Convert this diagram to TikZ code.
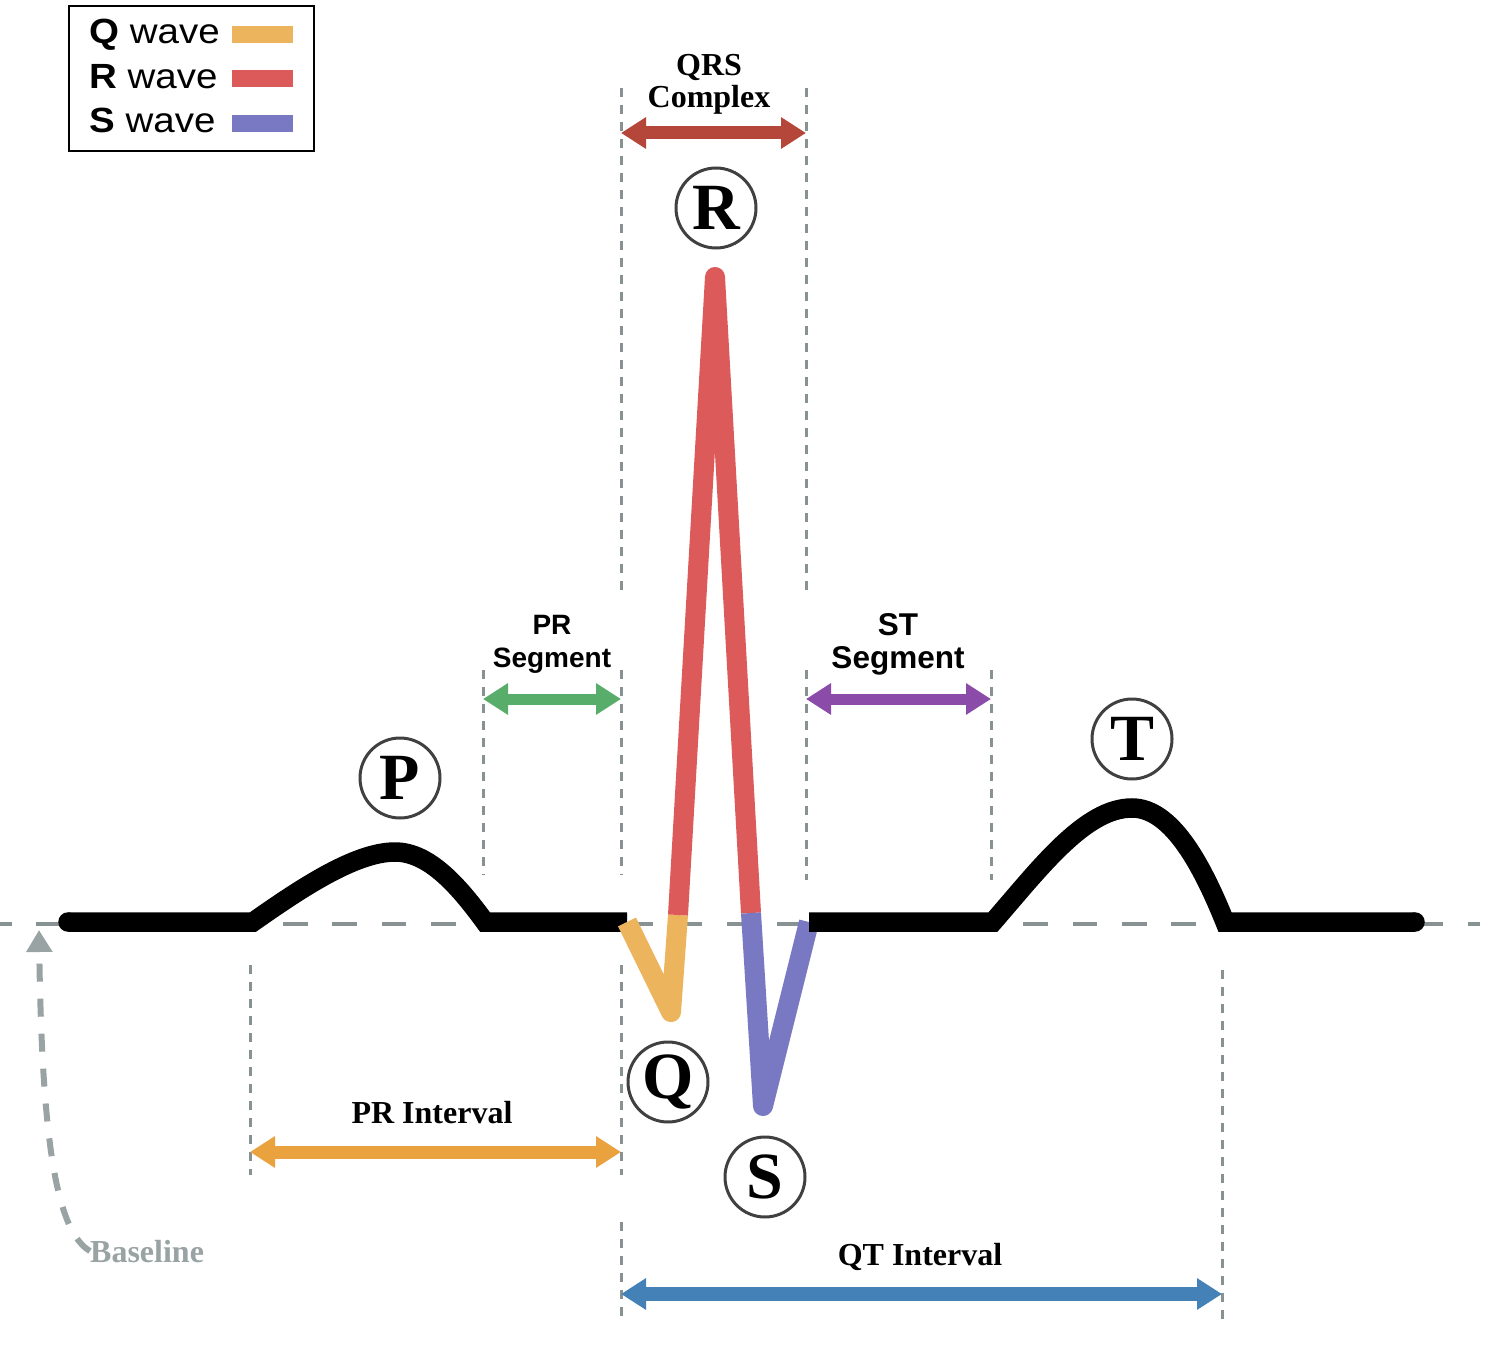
\documentclass[tikz,border=0pt]{standalone}
\usepackage{fontspec}
\setmainfont{Liberation Serif}
\newfontfamily\sansf{Liberation Sans}
\newfontfamily\legf[FakeStretch=1.1]{Liberation Sans}
\usetikzlibrary{arrows.meta}
\definecolor{qcol}{HTML}{EDB45E}
\definecolor{rcol}{HTML}{DD5A5A}
\definecolor{scol}{HTML}{7879C2}
\definecolor{qrscol}{HTML}{B4473A}
\definecolor{prsegcol}{HTML}{57AD69}
\definecolor{stsegcol}{HTML}{8A4BA9}
\definecolor{printcol}{HTML}{E9A23E}
\definecolor{qtcol}{HTML}{4481B6}
\definecolor{dashgray}{HTML}{899292}
\definecolor{basegray}{HTML}{99A3A3}
\definecolor{circcol}{HTML}{404040}
\begin{document}
\begin{tikzpicture}[x=1pt,y=-1pt,
  trace/.style={line width=19.5pt, black},
  wave/.style={line width=20pt, line join=round},
  guide/.style={draw=dashgray, line width=3pt, dash pattern=on 9pt off 8pt},
  dbl/.style={line width=13pt, {Triangle[length=25pt,width=30pt]}-{Triangle[length=25pt,width=30pt]}},
  lettercirc/.style={circle, draw=circcol, line width=3pt, minimum size=80pt, inner sep=0pt, font=\fontsize{66}{66}\selectfont\bfseries},
  serlbl/.style={font=\fontsize{32}{32}\selectfont\bfseries, inner sep=0pt},
  sanslbl/.style={font=\sansf\fontsize{28}{33}\selectfont\bfseries, inner sep=0pt, align=center},
  legtext/.style={font=\legf\fontsize{35}{35}\selectfont, inner sep=0pt, anchor=base west},
  swatch/.style={minimum width=61pt, minimum height=17pt, inner sep=0pt}
]
\useasboundingbox (0,0) rectangle (1500,1356);
\fill[white] (0,0) rectangle (1500,1356);

% baseline
\coordinate (bl0) at (-13,924);
\coordinate (bl1) at (1480,924);
\draw[draw=dashgray, line width=4pt, dash pattern=on 24.5pt off 24.85pt] (bl0) -- (bl1);

% guides
\foreach \n/\x/\ya/\yb in {a/621/88/595, b/806/88/595, c/483/670/875, d/621/670/875, e/806/670/880, f/991/670/880, g/250/965/1175, h/621/965/1175, i/621/1222/1322, j/1222/970/1322}{
  \coordinate (g\n1) at (\x,\ya);
  \coordinate (g\n2) at (\x,\yb);
  \draw[guide] (g\n1) -- (g\n2);
}

% ECG trace
\coordinate (t0) at (68,922);
\coordinate (p0) at (253,922);
\coordinate (ppk) at (395,852);
\coordinate (p1) at (485,922);
\coordinate (q0) at (627,922);
\coordinate (qb) at (671,1012);
\coordinate (r0) at (678,915);
\coordinate (rpk) at (715,277);
\coordinate (s0) at (751,913);
\coordinate (sb) at (763,1106);
\coordinate (s1) at (809,922);
\coordinate (t1) at (993,922);
\coordinate (tpk) at (1132,808);
\coordinate (t2) at (1225,922);
\coordinate (tend) at (1415,922);

\draw[trace] (t0) -- (p0) .. controls (300,889) and (355,852) .. (ppk) .. controls (430,852) and (460,888) .. (p1) -- (q0);
\fill (t0) circle (9.75pt);
\draw[wave, qcol] (q0) -- (qb) -- (r0);
\draw[wave, rcol] (r0) -- (rpk) -- (s0);
\draw[wave, scol] (s0) -- (sb) -- (s1);
\draw[trace] (s1) -- (t1) .. controls (1040,868) and (1085,808) .. (tpk) .. controls (1170,808) and (1200,860) .. (t2) -- (tend);
\fill (tend) circle (9.75pt);

% letter circles
\node[lettercirc] (R) at (716,208) {R};
\node[lettercirc] (P) at (400,778) {P};
\node[lettercirc] (T) at (1132,739) {T};
\node[lettercirc] (Q) at (668,1082) {Q};
\node[lettercirc] (S) at (765,1177) {S};

% interval arrows
\coordinate (qrsL) at (621,133); \coordinate (qrsR) at (806,133);
\draw[dbl, qrscol] (qrsL) -- (qrsR);
\coordinate (prsL) at (483,699); \coordinate (prsR) at (621,699);
\draw[dbl, prsegcol, line width=11pt] (prsL) -- (prsR);
\coordinate (stsL) at (806,699); \coordinate (stsR) at (991,699);
\draw[dbl, stsegcol, line width=11pt] (stsL) -- (stsR);
\coordinate (priL) at (250,1152); \coordinate (priR) at (621,1152);
\draw[dbl, printcol] (priL) -- (priR);
\coordinate (qtL) at (621,1294); \coordinate (qtR) at (1222,1294);
\draw[dbl, qtcol, line width=14pt] (qtL) -- (qtR);

% labels
\node[serlbl, align=center] (qrslbl) at (709,84) {QRS\\Complex};
\node[sanslbl] (prslbl) at (552,644.5) {PR\\Segment};
\node[sanslbl, font=\sansf\fontsize{31.5}{33}\selectfont\bfseries] (stslbl) at (898,644.5) {ST\\Segment};
\node[serlbl, anchor=base] (prilbl) at (432,1123) {PR Interval};
\node[serlbl, anchor=base] (qtlbl) at (920,1265) {QT Interval};
\node[serlbl, anchor=base west, text=basegray] (bl) at (90,1262) {Baseline};

% baseline pointer
\coordinate (btip) at (39,930);
\draw[basegray, line width=6pt, dash pattern=on 18pt off 17pt, -{Triangle[length=22pt,width=25pt]}] (bl.west) .. controls (58,1232) and (42,1150) .. (btip);

% legend
\node[draw, line width=1.5pt, minimum width=245pt, minimum height=145pt, inner sep=0pt] (legend) at (191.5,78.5) {};
\node[legtext] (lq) at (89,44) {\bfseries Q\mdseries\ wave};
\node[legtext] (lr) at (89,89) {\bfseries R\mdseries\ wave};
\node[legtext] (ls) at (89,133) {\bfseries S\mdseries\ wave};
\node[swatch, fill=qcol] (sq) at (262.5,35) {};
\node[swatch, fill=rcol] (sr) at (262.5,78.5) {};
\node[swatch, fill=scol] (ss) at (262.5,123.5) {};
\end{tikzpicture}
\end{document}
